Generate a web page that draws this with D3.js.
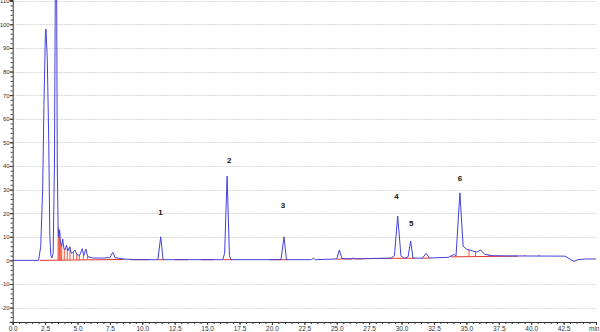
<!DOCTYPE html>
<html>
<head>
<meta charset="utf-8">
<script src="https://cdn.jsdelivr.net/npm/d3@7"></script>
<style>
    html, body { margin: 0; padding: 0; background: #fff; }
    svg { display: block; font-family: Arial, "Liberation Sans", sans-serif; }
    .tick text { font-size: 6.5px; fill: #333; }
    .y-axis .tick text { font-size: 6px; }
    .peak-label { font-size: 8px; font-weight: bold; fill: #111; }
</style>
</head>
<body>
<div id="chart-container"></div>
<script>
// Sinyal kromatogram (menit, mAU)
const traceTime = [0, 2.0, 2.16, 2.31, 2.41, 2.52, 2.57, 2.67, 2.78, 2.86, 2.9, 2.95, 3.02,
    3.12, 3.22, 3.3, 3.38, 3.44, 3.5, 3.55, 3.62, 3.68, 3.78, 3.86, 3.95, 4.05, 4.15, 4.25,
    4.4, 4.52, 4.62, 4.8, 4.95, 5.15, 5.37, 5.48, 5.65, 5.78, 6.2, 7.0, 7.5, 7.72, 7.9, 8.5,
    9.5, 11.2, 11.42, 11.6, 16.2, 16.35, 16.54, 16.72, 16.85, 20.7, 20.93, 21.12, 23.05, 23.2,
    23.35, 25.0, 25.2, 25.4, 26.1, 26.3, 26.5, 27.5, 29.0, 29.2, 29.45, 29.7, 29.95, 30.2, 30.5,
    30.7, 30.88, 31.6, 31.9, 32.15, 33.6, 34.05, 34.2, 34.5, 34.75, 35.0, 35.5, 35.8, 36.1,
    36.4, 37.0, 38.0, 42.6, 43.0, 43.3, 43.6, 44.2, 45];
const traceSignal = [0, 0, 5.8, 29.8, 66, 96, 98, 85, 51, 11.5, 5.8, 2, 1,
    3, 40, 130, 130, 40, 14.5, 10, 13, 8, 6, 9, 5, 4.5, 6.5, 4,
    5.8, 3, 3.2, 4.4, 2.5, 2, 5, 2, 4.8, 1.6, 1, 1, 1.2, 3.4, 1.2, 0.6,
    0.3, 0.3, 10, 0.3, 0.3, 3, 35.7, 2, 0.3, 0.3, 10, 0.3, 0.3, 1,
    0.3, 0.6, 4.4, 0.8, 0.6, 1.0, 0.6, 0.8, 0.9, 1.0, 2, 18.8, 2, 0.8, 1.5,
    8.2, 1, 0.9, 3, 1, 1.3, 2.5, 1.8, 28.6, 6, 4.8, 4, 3.5, 4.4,
    2.6, 2, 1.9, 1.8, 0.5, -0.4, 0.3, 0.6, 0.6];

// Garis dasar integrasi: [t awal, nilai awal, t akhir, nilai akhir]
const baselineSegments = [
    [2.1, 0.0, 8.6, 0.4],
    [9.0, 0.3, 10.5, 0.3],
    [11.2, 0.3, 11.65, 0.3],
    [12.5, 0.3, 13.5, 0.3],
    [14.5, 0.3, 15.5, 0.3],
    [16.2, 0.3, 16.9, 0.3],
    [19.8, 0.3, 21.2, 0.3],
    [25.0, 0.5, 25.5, 0.6],
    [25.5, 0.6, 29.2, 0.9],
    [29.2, 0.9, 31.0, 0.9],
    [31.6, 0.9, 32.2, 1.0],
    [33.8, 1.5, 39.0, 1.8]
];

// Garis batas puncak: [t, bawah, atas]
const dropLines = [
    [3.5, 0.1, 14], [3.56, 0.1, 10], [3.62, 0.1, 12], [3.7, 0.1, 8], [3.78, 0.1, 6],
    [3.98, 0.1, 5], [4.21, 0.1, 5], [4.42, 0.1, 5.5], [4.68, 0.2, 3.5], [4.94, 0.2, 2.5],
    [5.14, 0.2, 2], [5.45, 0.2, 2.2], [5.78, 0.2, 1.6],
    [35.2, 1.6, 4.5], [35.7, 1.7, 4], [36.7, 1.8, 2.3],
    [39.5, 1.8, 2.4], [40.6, 1.8, 2.4]
];

// Label puncak
const peakNames = ["1", "2", "3", "4", "5", "6"];
const peakTimes = [11.4, 16.7, 20.86, 29.6, 30.74, 34.5];
const peakLabelValues = [20.5, 42.5, 23.4, 27.2, 15.8, 34.9];

// Sumbu
const xTicks = [0, 2.5, 5, 7.5, 10, 12.5, 15, 17.5, 20, 22.5, 25, 27.5, 30, 32.5, 35, 37.5, 40, 42.5, 45];
const yTicks = [-20, -10, 0, 10, 20, 30, 40, 50, 60, 70, 80, 90, 100, 110];

const W = 600, H = 332;
const svg = d3.select("#chart-container").append("svg")
    .attr("width", W).attr("height", H);

const xScale = d3.scaleLinear().domain([0, 45]).range([12.7, 596]);
const yScale = d3.scaleLinear().domain([-26.1, 110.3]).range([322, 0]);

// Clip area plot
svg.append("clipPath").attr("id", "plot-clip")
    .append("rect")
    .attr("x", xScale(0)).attr("y", 0)
    .attr("width", xScale(45) - xScale(0))
    .attr("height", yScale(-26.1));

// Grid horizontal
svg.append("g")
    .selectAll("line")
    .data(yTicks.filter((d) => d !== 0))
    .enter().append("line")
    .attr("x1", xScale(0)).attr("x2", xScale(45))
    .attr("y1", (d) => Math.round(yScale(d)) + 0.5)
    .attr("y2", (d) => Math.round(yScale(d)) + 0.5)
    .attr("stroke", "#d8d8d8")
    .attr("stroke-width", 1)
    .attr("stroke-dasharray", "2,1");

const plot = svg.append("g").attr("clip-path", "url(#plot-clip)");

// Garis dasar merah
plot.selectAll(".base")
    .data(baselineSegments)
    .enter().append("line")
    .attr("class", "base")
    .attr("x1", (d) => xScale(d[0])).attr("y1", (d) => yScale(d[1]))
    .attr("x2", (d) => xScale(d[2])).attr("y2", (d) => yScale(d[3]))
    .attr("stroke", "#e8342c").attr("stroke-width", 1);

// Garis tegak batas puncak
plot.selectAll(".drop")
    .data(dropLines)
    .enter().append("line")
    .attr("class", "drop")
    .attr("x1", (d) => xScale(d[0])).attr("x2", (d) => xScale(d[0]))
    .attr("y1", (d) => yScale(d[1])).attr("y2", (d) => yScale(d[2]))
    .attr("stroke", "#f0553c").attr("stroke-width", 1);

// Kurva sinyal
const traceData = traceTime.map((t, i) => ({ t, v: traceSignal[i] }));
const line = d3.line().x((d) => xScale(d.t)).y((d) => yScale(d.v));
plot.append("path")
    .datum(traceData)
    .attr("fill", "none")
    .attr("stroke", "#4242dc")
    .attr("stroke-width", 1)
    .attr("stroke-linejoin", "round")
    .attr("d", line);

// Sumbu X
const xAxis = svg.append("g")
    .attr("transform", `translate(0,${yScale(-26.1)})`);
xAxis.call(d3.axisBottom(xScale)
    .tickValues(d3.range(0, 45.01, 0.5))
    .tickSize(2).tickFormat(""));
xAxis.call((g) => g.select(".domain").remove());
const xMajor = svg.append("g")
    .attr("transform", `translate(0,${yScale(-26.1)})`)
    .call(d3.axisBottom(xScale)
        .tickValues(xTicks)
        .tickSize(3)
        .tickPadding(1)
        .tickFormat((d) => (d === 45 ? "min" : d3.format(".1f")(d))));
xMajor.select(".domain").attr("stroke", "#333");
// Label "min" di ujung kanan
xMajor.selectAll(".tick text")
    .filter((d) => d === 45)
    .attr("text-anchor", "end")
    .attr("dx", "3");
svg.selectAll(".tick line").attr("stroke", "#333");

// Sumbu Y
svg.append("g")
    .attr("transform", `translate(${xScale(0)},0)`)
    .call(d3.axisLeft(yScale)
        .tickValues(d3.range(-26, 111, 2))
        .tickSize(2).tickFormat(""))
    .call((g) => g.select(".domain").remove())
    .selectAll("line").attr("stroke", "#333");
const yAxis = svg.append("g")
    .attr("class", "y-axis")
    .attr("transform", `translate(${xScale(0)},0)`)
    .call(d3.axisLeft(yScale)
        .tickValues(yTicks)
        .tickSize(3)
        .tickPadding(0)
        .tickFormat((d) => String(d)));
yAxis.select(".domain").attr("stroke", "#333");
yAxis.selectAll("line").attr("stroke", "#333");

// Label puncak
svg.selectAll(".peak-label")
    .data(peakNames)
    .enter().append("text")
    .attr("class", "peak-label")
    .attr("x", (d, i) => xScale(peakTimes[i]))
    .attr("y", (d, i) => yScale(peakLabelValues[i]))
    .attr("dy", "0.35em")
    .attr("text-anchor", "middle")
    .text((d) => d);
</script>
</body>
</html>
